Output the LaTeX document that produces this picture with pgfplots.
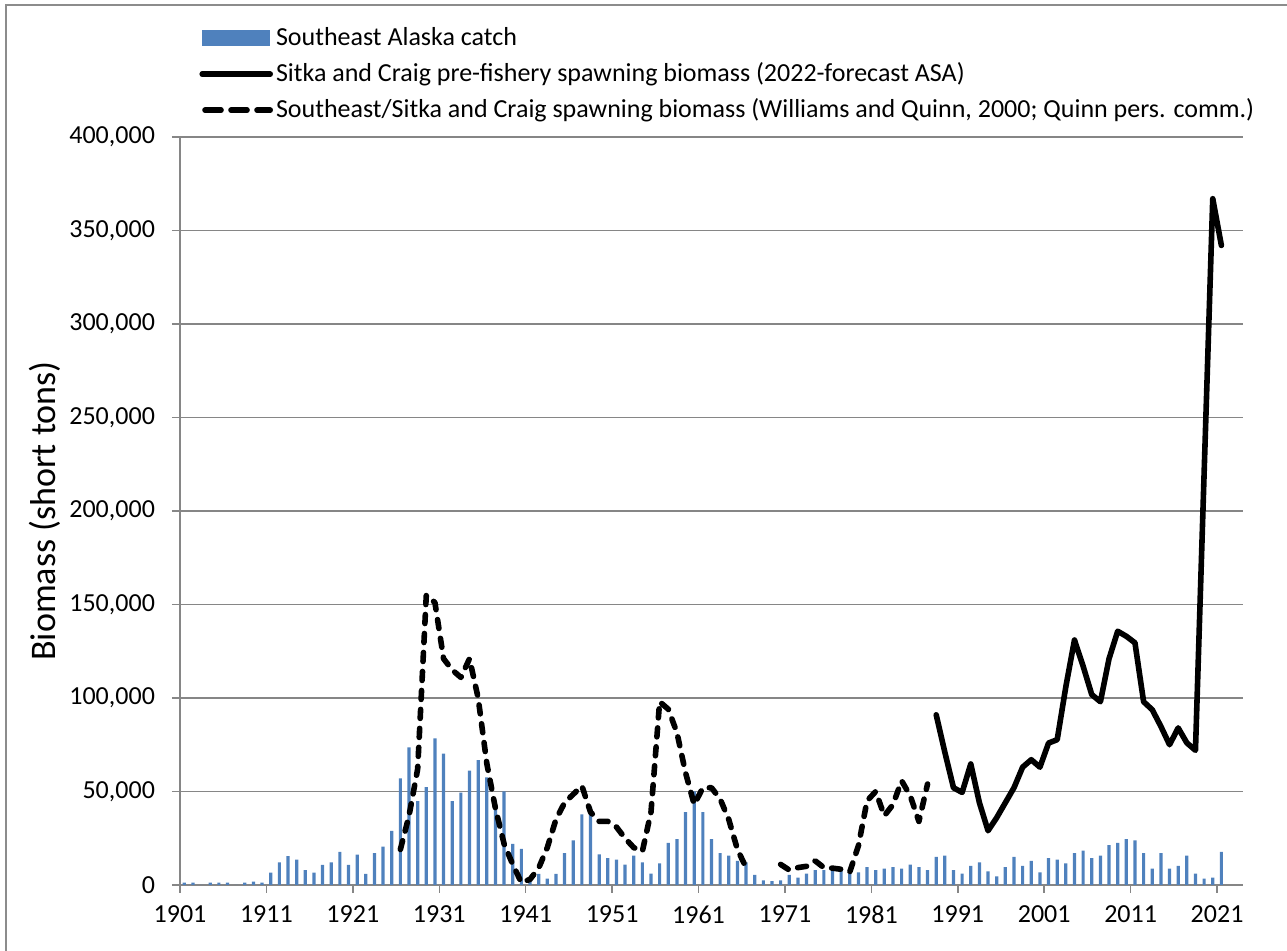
\documentclass[border=0pt]{standalone}
\usepackage{fontspec}
\setmainfont{Carlito}
\usepackage{pgfplots}
\usepackage{pgfplotstable}
\pgfplotsset{compat=1.18}
\definecolor{barblue}{HTML}{4F81BD}
\definecolor{axisgray}{HTML}{868686}
\definecolor{framegray}{HTML}{8C8C8C}

\pgfplotstableread{
year catch
1901 1200
1902 1200
1903 0
1904 1200
1905 1200
1906 1200
1907 0
1908 1200
1909 1800
1910 1200
1911 6600
1912 12100
1913 15500
1914 13600
1915 8000
1916 6600
1917 10700
1918 12100
1919 17700
1920 10700
1921 16200
1922 5900
1923 17000
1924 20500
1925 29000
1926 57000
1927 73600
1928 44800
1929 52300
1930 78400
1931 70200
1932 44800
1933 49400
1934 61200
1935 66800
1936 57600
1937 42000
1938 50000
1939 22000
1940 19300
1941 3000
1942 6000
1943 3400
1944 6000
1945 17000
1946 23900
1947 37700
1948 41800
1949 16400
1950 14300
1951 13600
1952 10900
1953 15700
1954 12100
1955 6100
1956 11600
1957 22500
1958 24500
1959 38900
1960 50000
1961 38900
1962 24500
1963 17000
1964 15700
1965 12900
1966 12100
1967 5400
1968 2500
1969 2000
1970 2500
1971 5400
1972 3900
1973 6100
1974 8000
1975 8000
1976 7500
1977 8700
1978 6100
1979 6800
1980 9500
1981 8000
1982 8700
1983 9500
1984 8700
1985 10900
1986 9500
1987 8000
1988 15000
1989 15700
1990 8000
1991 6100
1992 10200
1993 12100
1994 7300
1995 4600
1996 9500
1997 15000
1998 10200
1999 12900
2000 6800
2001 14300
2002 13600
2003 11600
2004 17000
2005 18400
2006 14300
2007 15700
2008 21300
2009 22500
2010 24500
2011 23900
2012 17000
2013 8700
2014 17000
2015 8700
2016 10200
2017 15700
2018 6100
2019 3400
2020 3900
2021 17700
}\catchtable

\pgfplotstableread{
year asa
1988 91000
1989 71000
1990 52000
1991 49500
1992 64700
1993 44000
1994 29000
1995 36000
1996 44000
1997 52000
1998 63000
1999 67000
2000 63000
2001 75900
2002 77700
2003 106000
2004 131000
2005 117000
2006 101800
2007 98000
2008 121000
2009 135700
2010 133000
2011 129500
2012 98000
2013 93700
2014 84800
2015 75000
2016 84000
2017 76000
2018 72000
2019 220000
2020 367000
2021 342000
}\asatable

\pgfplotstableread{
year wq
1926 19000
1927 37000
1928 62000
1929 155000
1930 151000
1931 121000
1932 115000
1933 111000
1934 121000
1935 100000
1936 65000
1937 41000
1938 22000
1939 11000
1940 1300
1941 3000
1942 9000
1943 20000
1944 35000
1945 44000
1946 48500
1947 53000
1948 39000
1949 34000
1950 34000
1951 31000
1952 25000
1953 20000
1954 18000
1955 39000
1956 98000
1957 94000
1958 81500
1959 60000
1960 43000
1961 52000
1962 52000
1963 46000
1964 35000
1965 19000
1966 9300
1967 nan
1968 nan
1969 nan
1970 11000
1971 8000
1972 9300
1973 10000
1974 12900
1975 9300
1976 9000
1977 8400
1978 7000
1979 21000
1980 45000
1981 50000
1982 37000
1983 43000
1984 55700
1985 47700
1986 34000
1987 54000
}\wqtable

\begin{document}
\begin{tikzpicture}
\path[use as bounding box] (-90pt,-33pt) rectangle (553.5pt,442.5pt);
\draw[framegray, line width=0.75pt] (-87pt,-60pt) |- (580pt,440pt);
\begin{axis}[
  at={(0pt,0pt)}, anchor=south west,
  scale only axis,
  width=531.5pt, height=374pt,
  xmin=1900.5, xmax=2023.5,
  ymin=0, ymax=400000,
  axis x line*=bottom, axis y line*=left,
  axis line style={draw=axisgray, line width=0.75pt},
  tick style={draw=axisgray, line width=0.75pt},
  major tick length=4pt,
  tick align=outside,
  xtick={1900.5,1910.5,1920.5,1930.5,1940.5,1950.5,1960.5,1970.5,1980.5,1990.5,2000.5,2010.5,2020.5},
  xticklabels={1901,1911,1921,1931,1941,1951,1961,1971,1981,1991,2001,2011,2021},
  ytick={0,50000,100000,150000,200000,250000,300000,350000,400000},
  scaled y ticks=false,
  /pgf/number format/fixed,
  /pgf/number format/1000 sep={,},
  /pgf/number format/assume math mode=true,
  yticklabel style={font=\fontsize{13}{15}\selectfont, text=black, xshift=-5pt},
  xticklabel style={font=\fontsize{13}{15}\selectfont, text=black, yshift=-3pt},
  ymajorgrids=true,
  major grid style={draw=axisgray, line width=0.75pt},
  ylabel={Biomass (short tons)},
  ylabel style={font=\fontsize{18}{21}\selectfont, at={(axis description cs:-0.127,0.5)}, anchor=center},
  unbounded coords=jump,
  legend style={at={(axis description cs:0.0179,1.150)}, anchor=north west,
    draw=none, fill=none, inner sep=0pt, row sep=5pt, column sep=1.5pt,
    nodes={inner sep=0pt, text height=10pt, text depth=3pt, anchor=west},
    font=\fontsize{13}{15}\selectfont},
  legend cell align=left,
]
\addplot[ybar, bar width=1.6pt, bar shift=0pt, fill=barblue, draw=none,
  legend image code/.code={\fill[barblue] (0pt,-4pt) rectangle (34pt,4pt);}]
  table[x=year, y=catch] {\catchtable};
\addlegendentry{Southeast Alaska catch}
\addplot[black, line width=2.8pt, line join=round, line cap=round,
  legend image code/.code={\draw[black, line width=2.8pt] (0pt,0pt) -- (34pt,0pt);}]
  table[x=year, y=asa] {\asatable};
\addlegendentry{Sitka and Craig pre-fishery spawning biomass (2022-forecast ASA)}
\addplot[black, line width=2.8pt, line join=round, line cap=round, dash pattern=on 4.5pt off 5pt,
  legend image code/.code={\draw[black, line width=2.8pt, dash pattern=on 8pt off 5pt] (1.4pt,0pt) -- (34pt,0pt);}]
  table[x=year, y=wq] {\wqtable};
\addlegendentry{Southeast/Sitka and Craig spawning biomass (Williams and Quinn, 2000; Quinn pers. comm.)}
\end{axis}
\end{tikzpicture}
\end{document}
